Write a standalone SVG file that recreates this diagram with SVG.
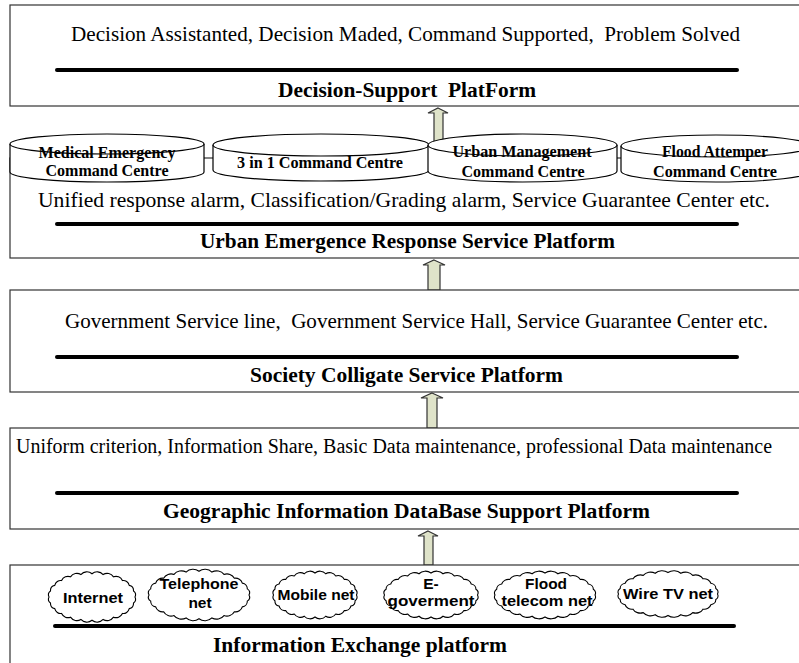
<svg xmlns="http://www.w3.org/2000/svg" xmlns:xlink="http://www.w3.org/1999/xlink" width="799" height="663" viewBox="0 0 799 663">
<style>
.box{fill:#fff;stroke:#333;stroke-width:1.2}
.bar{stroke:#000;stroke-width:4;stroke-linecap:round}
.txt{font-family:"Liberation Serif","Times New Roman",serif;font-size:21px;fill:#000;white-space:pre}
.ttl{font-family:"Liberation Serif","Times New Roman",serif;font-size:21px;font-weight:bold;fill:#000;white-space:pre}
.cyl{fill:#fff;stroke:#000;stroke-width:1.2}
.ctx{font-family:"Liberation Serif","Times New Roman",serif;font-size:16px;font-weight:bold;fill:#000;text-anchor:middle}
.arr{fill:#dfe3c9;stroke:#333;stroke-width:1.2}
.cld{fill:#fff;stroke:#000;stroke-width:1.1}
.ntx{font-family:"Liberation Sans",Arial,sans-serif;font-size:15.5px;font-weight:bold;fill:#000;text-anchor:middle}
</style>
<defs>
<path id="cloud" vector-effect="non-scaling-stroke" d="M50,0 A5,5 0 0 1 48.3,6.47 A5.9,5.9 0 0 1 43.3,12.5 A7.1,7.1 0 0 1 35.36,17.68 A8.3,8.3 0 0 1 25,21.65 A9.2,9.2 0 0 1 12.94,24.15 A9.7,9.7 0 0 1 0,25 A9.7,9.7 0 0 1 -12.94,24.15 A9.2,9.2 0 0 1 -25,21.65 A8.3,8.3 0 0 1 -35.36,17.68 A7.1,7.1 0 0 1 -43.3,12.5 A5.9,5.9 0 0 1 -48.3,6.47 A5,5 0 0 1 -50,0 A5,5 0 0 1 -48.3,-6.47 A5.9,5.9 0 0 1 -43.3,-12.5 A7.1,7.1 0 0 1 -35.36,-17.68 A8.3,8.3 0 0 1 -25,-21.65 A9.2,9.2 0 0 1 -12.94,-24.15 A9.7,9.7 0 0 1 0,-25 A9.7,9.7 0 0 1 12.94,-24.15 A9.2,9.2 0 0 1 25,-21.65 A8.3,8.3 0 0 1 35.36,-17.68 A7.1,7.1 0 0 1 43.3,-12.5 A5.9,5.9 0 0 1 48.3,-6.47 A5,5 0 0 1 50,0 Z"/>
</defs>

<g id="connectors">
<polygon class="arr" points="438,108 448,113 443,113 443,142 434,142 434,113 428,113"/>
<polygon class="arr" points="434,260 445,265 440,265 440,290 428,290 428,265 423,265"/>
<polygon class="arr" points="432,393 443,398 437,398 437,428 427,428 427,398 421,398"/>
<polygon class="arr" points="428,531 438,536 433,536 433,565 424,565 424,536 418,536"/>
</g>

<g id="decision-support">
<rect class="box" x="10" y="5" width="800" height="101"/>
<text class="txt" x="71" y="41" textLength="669" lengthAdjust="spacingAndGlyphs" xml:space="preserve">Decision Assistanted, Decision Maded, Command Supported,  Problem Solved</text>
<line class="bar" x1="57" y1="70" x2="737" y2="70"/>
<text class="ttl" x="278" y="97" textLength="258" lengthAdjust="spacingAndGlyphs" xml:space="preserve">Decision-Support  PlatForm</text>
</g>

<g id="urban-emergence">
<rect class="box" x="10" y="158" width="800" height="100"/>
<text class="txt" x="38" y="207" textLength="732" lengthAdjust="spacingAndGlyphs">Unified response alarm, Classification/Grading alarm, Service Guarantee Center etc.</text>
<line class="bar" x1="57" y1="224" x2="737" y2="224"/>
<text class="ttl" x="200" y="248" textLength="415" lengthAdjust="spacingAndGlyphs">Urban Emergence Response Service Platform</text>
</g>

<g id="medical-emergency">
<path class="cyl" d="M10,144 L10,172 A97,10 0 0 0 204,172 L204,144"/>
<ellipse class="cyl" cx="107" cy="144" rx="97" ry="10"/>
<text class="ctx" x="107" y="158" textLength="137" lengthAdjust="spacingAndGlyphs">Medical Emergency</text>
<text class="ctx" x="107" y="176" textLength="123" lengthAdjust="spacingAndGlyphs">Command Centre</text>
</g>

<g id="three-in-one">
<path class="cyl" d="M213,145 L213,170 A108,11 0 0 0 429,170 L429,145"/>
<ellipse class="cyl" cx="321" cy="145" rx="108" ry="11"/>
<text class="ctx" x="320" y="168" textLength="166" lengthAdjust="spacingAndGlyphs">3 in 1 Command Centre</text>
</g>

<g id="urban-management">
<path class="cyl" d="M428,145 L428,171 A94.5,11 0 0 0 617,171 L617,145"/>
<ellipse class="cyl" cx="522.5" cy="145" rx="94.5" ry="11"/>
<text class="ctx" x="522" y="157" textLength="139" lengthAdjust="spacingAndGlyphs">Urban Management</text>
<text class="ctx" x="523" y="177" textLength="123" lengthAdjust="spacingAndGlyphs">Command Centre</text>
</g>

<g id="flood-attemper">
<path class="cyl" d="M621,146 L621,171 A95,11 0 0 0 811,171 L811,146"/>
<ellipse class="cyl" cx="716" cy="146" rx="95" ry="11"/>
<text class="ctx" x="715" y="157" textLength="106" lengthAdjust="spacingAndGlyphs">Flood Attemper</text>
<text class="ctx" x="715" y="177" textLength="124" lengthAdjust="spacingAndGlyphs">Command Centre</text>
</g>

<g id="society-colligate">
<rect class="box" x="10" y="290" width="800" height="102"/>
<text class="txt" x="65" y="328" textLength="703" lengthAdjust="spacingAndGlyphs" xml:space="preserve">Government Service line,  Government Service Hall, Service Guarantee Center etc.</text>
<line class="bar" x1="57" y1="357" x2="737" y2="357"/>
<text class="ttl" x="250" y="382" textLength="313" lengthAdjust="spacingAndGlyphs">Society Colligate Service Platform</text>
</g>

<g id="geographic-database">
<rect class="box" x="10" y="428" width="800" height="101"/>
<text class="txt" x="16" y="453" font-size="20" style="font-size:20px" textLength="756" lengthAdjust="spacingAndGlyphs">Uniform criterion, Information Share, Basic Data maintenance, professional Data maintenance</text>
<line class="bar" x1="57" y1="493" x2="737" y2="493"/>
<text class="ttl" x="163" y="518" textLength="487" lengthAdjust="spacingAndGlyphs">Geographic Information DataBase Support Platform</text>
</g>

<g id="information-exchange">
<rect class="box" x="10" y="565" width="800" height="140"/>
<line class="bar" x1="55" y1="626" x2="734" y2="626"/>
<text class="ttl" x="213" y="652" textLength="294" lengthAdjust="spacingAndGlyphs">Information Exchange platform</text>
</g>

<g id="internet">
<use class="cld" xlink:href="#cloud" href="#cloud" transform="translate(92,597) scale(0.86,0.93)"/>
<text class="ntx" x="93" y="603" textLength="60" lengthAdjust="spacingAndGlyphs">Internet</text>
</g>
<g id="telephone-net">
<use class="cld" xlink:href="#cloud" href="#cloud" transform="translate(199,595) scale(1.0,0.95)"/>
<text class="ntx" x="199" y="589" textLength="79" lengthAdjust="spacingAndGlyphs">Telephone</text>
<text class="ntx" x="200" y="608">net</text>
</g>
<g id="mobile-net">
<use class="cld" xlink:href="#cloud" href="#cloud" transform="translate(315,595) scale(0.83,0.88)"/>
<text class="ntx" x="316" y="600" textLength="77" lengthAdjust="spacingAndGlyphs">Mobile net</text>
</g>
<g id="e-goverment">
<use class="cld" xlink:href="#cloud" href="#cloud" transform="translate(431,595) scale(0.93,0.88)"/>
<text class="ntx" x="431" y="589">E-</text>
<text class="ntx" x="431" y="606" textLength="87" lengthAdjust="spacingAndGlyphs">goverment</text>
</g>
<g id="flood-telecom-net">
<use class="cld" xlink:href="#cloud" href="#cloud" transform="translate(545,595) scale(1.0,0.88)"/>
<text class="ntx" x="546" y="589" textLength="42" lengthAdjust="spacingAndGlyphs">Flood</text>
<text class="ntx" x="547" y="606" textLength="91" lengthAdjust="spacingAndGlyphs">telecom net</text>
</g>
<g id="wire-tv-net">
<use class="cld" xlink:href="#cloud" href="#cloud" transform="translate(668,594) scale(0.99,0.86)"/>
<text class="ntx" x="668" y="599" textLength="90" lengthAdjust="spacingAndGlyphs">Wire TV net</text>
</g>
</svg>
